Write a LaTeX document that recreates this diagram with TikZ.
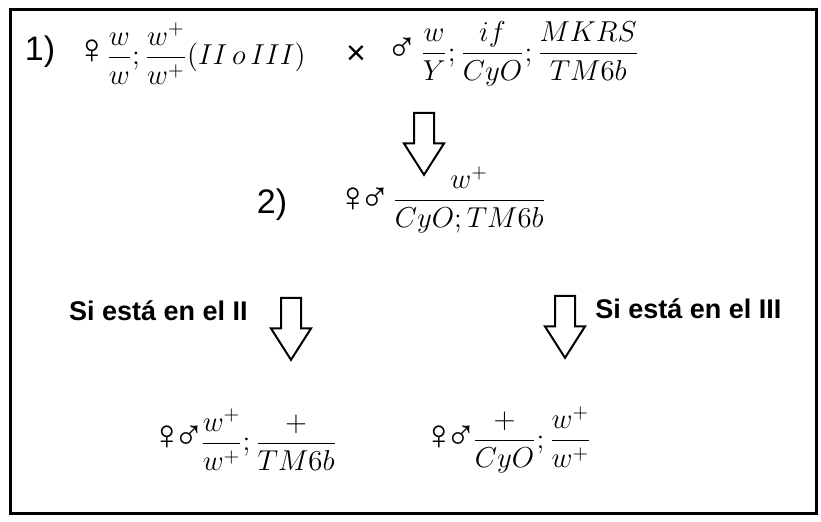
\documentclass[tikz,border=0pt]{standalone}
\usepackage{fontspec}
\usepackage{amsmath}
\usepackage{tikz}
\usetikzlibrary{shapes.arrows,positioning}
\newfontfamily\arialfont{Liberation Sans}

\begin{document}
\begin{tikzpicture}[x=0.5pt,y=-0.5pt,
  frm/.style={inner sep=0pt,font=\Large},
  num/.style={inner sep=0pt,font=\arialfont\fontsize{17}{20}\selectfont},
  cond/.style={inner sep=0pt,font=\arialfont\bfseries\fontsize{13.5}{16}\selectfont},
  sex/.style={inner sep=0pt,font=\arialfont\fontsize{21}{24}\selectfont},
  downarr/.style={draw,line width=1pt,fill=white,single arrow,shape border rotate=270,
    minimum height=31pt,inner sep=4.5pt,single arrow head extend=5pt,
    single arrow tip angle=65}]
  \useasboundingbox (0,0) rectangle (821,522);
  \draw[line width=1.5pt] (10,10) rectangle (816,514);

  \node[num] (p1) at (40,52) {1)};
  \node[sex] (fem1) at (92,52) {♀};
  \node[frm,anchor=west] (gA) at (106,54) {$\dfrac{w}{w};\dfrac{w^{+}}{w^{+}}(II\,o\,III)$};
  \node[num] (cross) at (356,55) {×};
  \node[sex] (male1) at (402,50) {♂};
  \node[frm,anchor=west] (gB) at (420,54) {$\dfrac{w}{Y};\dfrac{if}{CyO};\dfrac{MKRS}{TM6b}$};

  \node[downarr] (arr1) at (424,136) {};

  \node[num] (p2) at (272,205) {2)};
  \node[sex] (pair2) at (364,200) {♀\kern-5pt♂};
  \node[frm,anchor=west] (gC) at (392,200) {$\dfrac{w^{+}}{CyO;TM6b}$};

  \node[downarr] (arrL) at (291,321) {};
  \node[downarr] (arrR) at (565,319) {};
  \node[cond,anchor=east] (labL) at (248,311) {Si está en el II};
  \node[cond,anchor=west] (labR) at (595,309) {Si está en el III};

  \node[sex] (pairL) at (178,438) {♀\kern-5pt♂};
  \node[frm,anchor=west] (gD) at (200,440) {$\dfrac{w^{+}}{w^{+}};\dfrac{+}{TM6b}$};
  \node[sex] (pairR) at (450,438) {♀\kern-5pt♂};
  \node[frm,anchor=west] (gE) at (472,440) {$\dfrac{+}{CyO};\dfrac{w^{+}}{w^{+}}$};
\end{tikzpicture}
\end{document}
